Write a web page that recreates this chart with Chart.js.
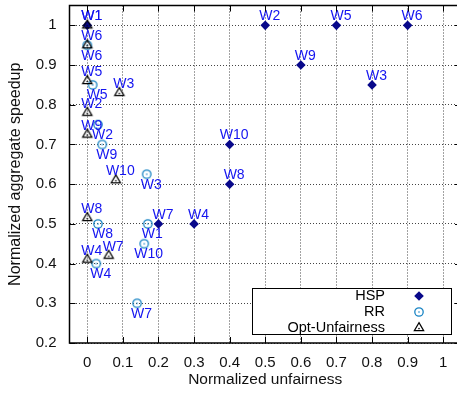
<!DOCTYPE html>
<html>
<head>
<meta charset="utf-8">
<title>Speedup vs unfairness</title>
<script src="https://cdn.jsdelivr.net/npm/chart.js@4.4.0/dist/chart.umd.min.js"></script>
<style>
  html, body { margin: 0; padding: 0; background: #fff; overflow: hidden; }
  #wrap { position: relative; width: 462px; height: 394px; }
</style>
</head>
<body>
<div id="wrap"><canvas id="grafico" width="462" height="394"></canvas></div>
<script>
// workload names, same order for every series
const workloads = ["W1", "W2", "W3", "W4", "W5", "W6", "W7", "W8", "W9", "W10"];

// HSP
const hspX = [0, 0.5, 0.8, 0.3, 0.7, 0.9, 0.2, 0.4, 0.6, 0.4];
const hspY = [1, 1, 0.85, 0.5, 1, 1, 0.5, 0.6, 0.9, 0.7];

// RR
const rrX = [0.17, 0.03, 0.167, 0.025, 0.015, 0, 0.14, 0.03, 0.042, 0.16];
const rrY = [0.5, 0.75, 0.625, 0.4, 0.85, 0.95, 0.3, 0.5, 0.7, 0.45];

// Opt-Unfairness
const optX = [0, 0, 0.09, 0, 0, 0, 0.06, 0, 0, 0.08];
const optY = [1, 0.78, 0.83, 0.41, 0.86, 0.95, 0.42, 0.515, 0.725, 0.61];

const xTicks = [0, 0.1, 0.2, 0.3, 0.4, 0.5, 0.6, 0.7, 0.8, 0.9, 1];
const yTicks = [0.2, 0.3, 0.4, 0.5, 0.6, 0.7, 0.8, 0.9, 1];

const FONT = "'Liberation Sans', Arial, Helvetica, sans-serif";
const BLU_ETICHETTE = "#1414f0";

function punti(xs, ys) {
  return xs.map((x, i) => ({ x: x, y: ys[i] }));
}

// circle with a dot in the middle
function marcatoreCerchio(colore) {
  const c = document.createElement("canvas");
  c.width = 12; c.height = 12;
  const g = c.getContext("2d");
  g.strokeStyle = colore;
  g.lineWidth = 1.3;
  g.beginPath(); g.arc(6, 6, 4.2, 0, Math.PI * 2); g.stroke();
  g.fillStyle = colore;
  g.beginPath(); g.arc(6, 6, 0.8, 0, Math.PI * 2); g.fill();
  return c;
}

// open triangle with a dot in the middle
function marcatoreTriangolo(colore) {
  const c = document.createElement("canvas");
  c.width = 14; c.height = 14;
  const g = c.getContext("2d");
  const r = 5.4;
  g.strokeStyle = colore;
  g.lineWidth = 1.2;
  g.beginPath();
  g.moveTo(7, 7 - r);
  g.lineTo(7 + r * 0.866, 7 + r * 0.5);
  g.lineTo(7 - r * 0.866, 7 + r * 0.5);
  g.closePath();
  g.stroke();
  g.fillStyle = colore;
  g.beginPath(); g.arc(7, 7.6, 0.8, 0, Math.PI * 2); g.fill();
  return c;
}

// labels W1..W10 next to each point
const etichettePunti = {
  id: "etichettePunti",
  afterDatasetsDraw(chart) {
    const ctx = chart.ctx;
    ctx.save();
    ctx.font = "14px " + FONT;
    ctx.fillStyle = BLU_ETICHETTE;
    ctx.textAlign = "center";
    ctx.textBaseline = "alphabetic";
    chart.data.datasets.forEach((ds, di) => {
      const meta = chart.getDatasetMeta(di);
      meta.data.forEach((el, i) => {
        const dy = ds.sottoEtichetta ? 14.5 : -5;
        ctx.fillText(workloads[i], el.x + 4.5, el.y + dy);
      });
    });
    ctx.restore();
  }
};

// frame with inward ticks, and the legend box
const cornice = {
  id: "cornice",
  afterDraw(chart) {
    const ctx = chart.ctx;
    const a = chart.chartArea;
    const sx = chart.scales.x, sy = chart.scales.y;
    ctx.save();
    ctx.strokeStyle = "#000";
    ctx.lineWidth = 1;
    ctx.beginPath();
    xTicks.forEach(v => {
      const px = Math.round(sx.getPixelForValue(v)) + 0.5;
      ctx.moveTo(px, a.bottom); ctx.lineTo(px, a.bottom - 6);
      ctx.moveTo(px, a.top); ctx.lineTo(px, a.top + 6);
    });
    yTicks.forEach(v => {
      const py = Math.round(sy.getPixelForValue(v)) + 0.5;
      ctx.moveTo(a.left, py); ctx.lineTo(a.left + 6, py);
      ctx.moveTo(a.right, py); ctx.lineTo(a.right - 6, py);
    });
    ctx.stroke();
    ctx.lineWidth = 1.5;
    ctx.strokeRect(a.left, a.top, a.right - a.left, a.bottom - a.top);

    // legend
    ctx.lineWidth = 1;
    ctx.fillStyle = "#fff";
    ctx.fillRect(252.5, 288.5, 199, 46);
    ctx.strokeRect(252.5, 288.5, 199, 46);
    ctx.font = "14.5px " + FONT;
    ctx.textAlign = "right";
    ctx.textBaseline = "middle";
    chart.data.datasets.forEach((ds, i) => {
      const y = 296 + 16 * i;
      ctx.fillStyle = "#000";
      ctx.fillText(ds.label, 385, y);
      ctx.fillStyle = ds.backgroundColor;
      ctx.strokeStyle = ds.borderColor;
      Chart.helpers.drawPoint(ctx, {
        pointStyle: ds.pointStyle, radius: ds.pointRadius, rotation: 0, borderWidth: 0
      }, 419, y);
    });
    ctx.restore();
  }
};

new Chart(document.getElementById("grafico"), {
  type: "scatter",
  data: {
    datasets: [
      {
        label: "HSP",
        data: punti(hspX, hspY),
        pointStyle: "rectRot",
        pointRadius: 4.8,
        backgroundColor: "#08088a",
        borderColor: "#08088a",
        borderWidth: 0,
        order: 2
      },
      {
        label: "RR",
        data: punti(rrX, rrY),
        pointStyle: marcatoreCerchio("#1884c4"),
        pointRadius: 5,
        backgroundColor: "#1884c4",
        borderColor: "#1884c4",
        sottoEtichetta: true,
        order: 1
      },
      {
        label: "Opt-Unfairness",
        data: punti(optX, optY),
        pointStyle: marcatoreTriangolo("#000"),
        pointRadius: 5,
        backgroundColor: "#000",
        borderColor: "#000",
        order: 0
      }
    ]
  },
  options: {
    responsive: false,
    animation: false,
    layout: { autoPadding: false, padding: { top: 5.5, right: 1, left: 0, bottom: 0 } },
    plugins: {
      legend: { display: false },
      tooltip: { enabled: false }
    },
    scales: {
      x: {
        type: "linear",
        min: -0.05,
        max: 1.05,
        afterBuildTicks: s => { s.ticks = xTicks.map(v => ({ value: v })); },
        afterFit: s => { s.height = 51; s.paddingLeft = 0; s.paddingRight = 0; },
        ticks: {
          padding: 11,
          color: "#111",
          font: { family: FONT, size: 15 },
          callback: v => String(Math.round(v * 10) / 10)
        },
        grid: { color: "#444", lineWidth: 1, drawTicks: false, borderDash: [1, 2] },
        border: { display: false, dash: [1, 2] },
        title: {
          display: true,
          text: "Normalized unfairness",
          color: "#111",
          font: { family: FONT, size: 15.5 },
          padding: { top: 0, bottom: 5 }
        }
      },
      y: {
        type: "linear",
        min: 0.2,
        max: 1.05,
        afterBuildTicks: s => { s.ticks = yTicks.map(v => ({ value: v })); },
        afterFit: s => { s.width = 69.5; s.paddingTop = 0; s.paddingBottom = 0; },
        ticks: {
          padding: 13,
          color: "#111",
          font: { family: FONT, size: 15 },
          callback: v => String(Math.round(v * 10) / 10)
        },
        grid: { color: "#444", lineWidth: 1, drawTicks: false, borderDash: [1, 2] },
        border: { display: false, dash: [1, 2] },
        title: {
          display: true,
          text: "Normalized aggregate speedup",
          color: "#111",
          font: { family: FONT, size: 16 },
          padding: { top: 6.4, bottom: 0 }
        }
      }
    }
  },
  plugins: [etichettePunti, cornice]
});
</script>
</body>
</html>
